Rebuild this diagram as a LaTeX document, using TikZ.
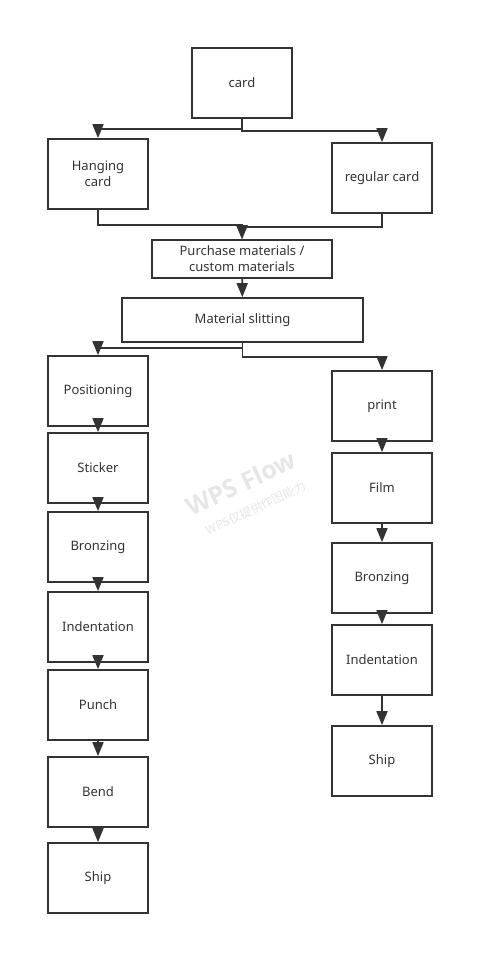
\documentclass[tikz,border=0pt]{standalone}
\usepackage{fontspec}
\setmainfont{Noto Sans}
\newfontfamily\cjk{Noto Sans CJK SC}
\newfontfamily\markfont{Open Sans}
\usetikzlibrary{arrows.meta}
\definecolor{inkgray}{HTML}{333333}
\definecolor{markgray}{HTML}{E6E6E6}

\begin{document}
\begin{tikzpicture}[x=1pt,y=-1pt,
    box/.style={draw=inkgray, line width=1.7pt, minimum width=100pt, minimum height=70pt,
      align=center, text=inkgray, font=\fontsize{13}{16}\selectfont, inner sep=2pt},
    flow/.style={draw=inkgray, line width=1.7pt, -{Triangle[width=11pt,length=14pt]}}]
  \useasboundingbox (0,0) rectangle (494,975);

  % top part
  \node[box] (card) at (242,83) {card};
  \node[box] (hang) at (98,174) {Hanging\\card};
  \node[box] (reg) at (382,178) {regular card};
  \node[box, minimum width=180pt, minimum height=38pt] (buy) at (242,259) {Purchase materials /\\custom materials};
  \node[box, minimum width=241pt, minimum height=44pt] (slit) at (242.5,320) {Material slitting};

  % left column
  \node[box] (pos) at (98,391) {Positioning};
  \node[box] (stick) at (98,468) {Sticker};
  \node[box] (bronzeL) at (98,547) {Bronzing};
  \node[box] (indentL) at (98,627) {Indentation};
  \node[box] (punch) at (98,705) {Punch};
  \node[box] (bend) at (98,792) {Bend};
  \node[box] (shipL) at (98,878) {Ship};

  % right column
  \node[box] (print) at (382,406) {print};
  \node[box] (film) at (382,488) {Film};
  \node[box] (bronzeR) at (382,578) {Bronzing};
  \node[box] (indentR) at (382,660) {Indentation};
  \node[box] (shipR) at (382,761) {Ship};

  % branches and merges
  \draw[flow] (card.south) -- ++(0,10) -| (hang.north);
  \draw[flow] (card.south) -- ++(0,12) -| (reg.north);
  \draw[flow] (hang.south) -- ++(0,15) -| (buy.north);
  \draw[flow] (reg.south) -- ++(0,13) -| (buy.north);
  \draw[flow] (buy) -- (slit);
  \draw[flow] (slit.south) -- ++(0,5) -| (pos.north);
  \draw[flow] (slit.south) -- ++(0,14) -| (print.north);

  % chains
  \foreach \a/\b in {pos/stick, stick/bronzeL, bronzeL/indentL, indentL/punch, punch/bend, bend/shipL,
                     print/film, film/bronzeR, bronzeR/indentR, indentR/shipR}
    \draw[flow] (\a) -- (\b);

  % watermark
  \node[rotate=25, text=markgray, font=\markfont\bfseries\fontsize{25}{27}\selectfont] (mark) at (241,483) {WPS Flow};
  \node[rotate=25, text=markgray, font=\cjk\fontsize{12}{14}\selectfont] (marksub) at (256,508) {WPS仅提供作图能力};
\end{tikzpicture}
\end{document}
